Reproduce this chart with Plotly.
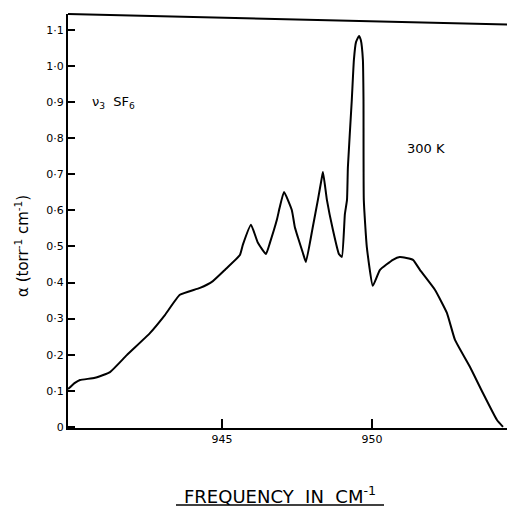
import plotly.graph_objects as go

# Absorption spectrum of nu3 SF6 at 300 K
freq = [939.87, 940.1, 940.27, 940.77, 941.27, 941.83, 942.6, 943.1, 943.6, 944.27, 944.7, 945.1,
        945.6, 945.7, 945.97, 946.2, 946.47, 946.6, 946.83, 946.93, 947.07, 947.33,
        947.43, 947.53, 947.7, 947.8, 948.03, 948.2, 948.33, 948.37, 948.5, 948.7,
        948.9, 949.0, 949.1, 949.17, 949.2, 949.33, 949.4, 949.47, 949.57, 949.63,
        949.7, 949.72, 949.73, 949.83, 950.03, 950.27, 950.7, 950.93, 951.37, 951.6,
        952.1, 952.5, 952.77, 953.27, 953.7, 954.17, 954.37]
alpha = [0.105, 0.122, 0.130, 0.136, 0.152, 0.199, 0.260, 0.310, 0.366, 0.385, 0.404, 0.435,
         0.476, 0.505, 0.560, 0.510, 0.479, 0.510, 0.573, 0.609, 0.651, 0.601,
         0.554, 0.526, 0.482, 0.457, 0.554, 0.629, 0.690, 0.706, 0.629, 0.546,
         0.479, 0.471, 0.590, 0.629, 0.720, 0.906, 1.017, 1.066, 1.083, 1.072,
         1.017, 0.906, 0.629, 0.499, 0.391, 0.435, 0.463, 0.471, 0.463, 0.435,
         0.380, 0.316, 0.241, 0.166, 0.094, 0.019, 0.0]

y_tickvals = [0, 0.1, 0.2, 0.3, 0.4, 0.5, 0.6, 0.7, 0.8, 0.9, 1.0, 1.1]
y_ticktext = ["0", "0·1", "0·2", "0·3", "0·4", "0·5", "0·6", "0·7", "0·8", "0·9", "1·0", "1·1"]
x_tickvals = [945, 950]
x_ticktext = ["945", "950"]

FONT = "DejaVu Sans"
PW, PH = 447, 414  # plot area size in px
# the page body has an 8px margin; figure is sized so it fills the 515x508 window
OFF = 8

fig = go.Figure()
fig.add_trace(go.Scatter(
    x=freq, y=alpha, mode="lines",
    line=dict(color="black", width=2, shape="spline", smoothing=0.4),
    hoverinfo="skip", showlegend=False,
))

fig.update_layout(
    width=515 - OFF, height=508 - OFF,
    margin=dict(l=68 - OFF, r=0, t=14 - OFF, b=80, autoexpand=False),
    paper_bgcolor="white", plot_bgcolor="white",
    font=dict(family=FONT, color="black", size=11),
    xaxis=dict(
        range=[939.87, 954.77], showgrid=False, zeroline=False,
        showline=True, linecolor="black", linewidth=2,
        ticks="inside", ticklen=9, tickwidth=1.5, tickcolor="black",
        tickvals=x_tickvals, ticktext=x_ticktext,
        tickfont=dict(family=FONT, size=11, color="black"),
    ),
    yaxis=dict(
        range=[-0.003, 1.144], showgrid=False, zeroline=False,
        showline=True, linecolor="black", linewidth=2,
        ticks="inside", ticklen=7, tickwidth=1.5, tickcolor="black",
        tickvals=y_tickvals, ticktext=y_ticktext,
        tickfont=dict(family=FONT, size=11, color="black"),
    ),
    shapes=[
        dict(type="line", xref="paper", yref="paper", x0=0, y0=1.0, x1=1, y1=0.974,
             line=dict(color="black", width=2)),
        dict(type="line", xref="paper", yref="paper",
             x0=(176 - 68) / PW, x1=(384 - 68) / PW,
             y0=(428 - 505) / PH, y1=(428 - 505) / PH,
             line=dict(color="black", width=1.5)),
    ],
    annotations=[
        dict(text="FREQUENCY  IN  CM<sup>-1</sup>", xref="paper", yref="paper",
             x=(280 - 68) / PW, y=(428 - 495) / PH, showarrow=False,
             xanchor="center", yanchor="middle",
             font=dict(family=FONT, size=18, color="black")),
        dict(text="α (torr<sup>-1</sup> cm<sup>-1</sup>)", xref="paper", yref="paper",
             x=-(68 - 22) / PW, y=(428 - 246) / PH, showarrow=False, textangle=-90,
             xanchor="center", yanchor="middle",
             font=dict(family=FONT, size=15, color="black")),
        dict(text="ν<sub>3</sub>  SF<sub>6</sub>", x=940.6, y=0.9, showarrow=False,
             xanchor="left", yanchor="middle",
             font=dict(family=FONT, size=13, color="black")),
        dict(text="300 K", x=951.1, y=0.77, showarrow=False,
             xanchor="left", yanchor="middle",
             font=dict(family=FONT, size=13, color="black")),
    ],
)

fig.write_html("out.html")
